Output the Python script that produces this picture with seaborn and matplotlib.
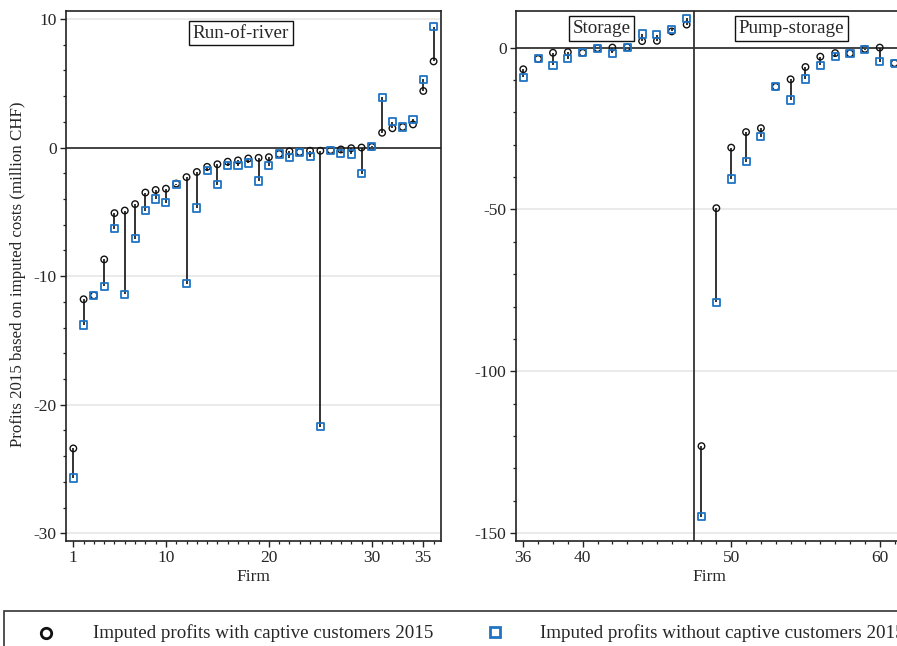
import matplotlib
matplotlib.use("Agg")
import matplotlib.pyplot as plt
import seaborn as sns
import pandas as pd
import numpy as np
from matplotlib.patches import Rectangle
from matplotlib.lines import Line2D

# ---------------- data ----------------
firms_left = list(range(1, 37))
with_captive_left = [-23.4, -11.8, -11.5, -8.7, -5.1, -4.9, -4.4, -3.5, -3.3, -3.2,
                     -2.8, -2.3, -1.9, -1.5, -1.3, -1.1, -1.0, -0.85, -0.8, -0.75,
                     -0.5, -0.3, -0.35, -0.25, -0.25, -0.2, -0.15, -0.05, 0.0, 0.05,
                     1.15, 1.5, 1.6, 1.8, 4.4, 6.7]
without_captive_left = [-25.7, -13.8, -11.5, -10.8, -6.3, -11.4, -7.1, -4.9, -4.0, -4.3,
                        -2.9, -10.6, -4.7, -1.8, -2.9, -1.4, -1.4, -1.2, -2.6, -1.4,
                        -0.5, -0.8, -0.35, -0.7, -21.7, -0.2, -0.45, -0.5, -2.05, 0.1,
                        3.9, 2.0, 1.6, 2.2, 5.3, 9.4]

firms_right = list(range(36, 62))
with_captive_right = [-6.7, -3.5, -1.6, -1.4, -1.6, -0.2, 0.0, 0.1, 2.0, 2.1, 5.0, 7.1,
                      -123.1, -49.6, -30.9, -26.1, -24.9, -12.1, -9.8, -6.0, -2.8, -1.7,
                      -1.8, -0.4, 0.0, -4.8]
without_captive_right = [-9.2, -3.5, -5.5, -3.4, -1.6, -0.2, -1.8, 0.1, 4.2, 3.9, 5.7, 9.0,
                         -144.9, -78.7, -40.6, -35.3, -27.5, -12.1, -16.2, -9.7, -5.5, -2.8,
                         -1.8, -0.6, -4.4, -4.8]

left_xticks = [1, 10, 20, 30, 35]
right_xticks = [36, 40, 50, 60]
left_yticks = [10, 0, -10, -20, -30]
right_yticks = [0, -50, -100, -150]
group_labels = ["Run-of-river", "Storage", "Pump-storage"]
legend_labels = ["Imputed profits with captive customers 2015",
                 "Imputed profits without captive customers 2015"]
ylabel = "Profits 2015 based on imputed costs (million CHF)"
xlabel = "Firm"

BLUE = "#1f74c4"
FONT = ["Liberation Serif", "DejaVu Serif"]
FS = 12.5
FS_BIG = 13.7

sns.set_style("white")
plt.rcParams["font.family"] = FONT

W, H = 897, 646
fig = plt.figure(figsize=(W / 100, H / 100), dpi=100)

def fx(px):
    return px / W

def fy(py):
    return 1 - py / H

top, bottom = 11, 541
axL = fig.add_axes([fx(66), fy(bottom), fx(441) - fx(66), fy(top) - fy(bottom)])
axR = fig.add_axes([fx(516), fy(bottom), fx(902) - fx(516), fy(top) - fy(bottom)])

dfL = pd.DataFrame({"firm": firms_left, "with": with_captive_left, "without": without_captive_left})
dfR = pd.DataFrame({"firm": firms_right, "with": with_captive_right, "without": without_captive_right})

def draw(ax, df, xlim, ylim, xticks, yticks, yminor):
    ax.set_xlim(*xlim)
    ax.set_ylim(*ylim)
    for yv in yticks:
        if yv != 0:
            ax.axhline(yv, color="#e6e6e6", lw=1.2, zorder=0)
    ax.axhline(0, color="#222222", lw=1.2, zorder=1)
    ax.vlines(df["firm"], df["with"], df["without"], color="#111111", lw=1.2, zorder=2)
    sns.scatterplot(data=df, x="firm", y="with", ax=ax, marker="o", s=22,
                    facecolor="none", edgecolor="#111111", linewidth=1.0, zorder=3)
    sns.scatterplot(data=df, x="firm", y="without", ax=ax, marker="s", s=26,
                    facecolor="none", edgecolor=BLUE, linewidth=1.3, zorder=4)
    ax.set_xticks(xticks)
    ax.set_xticklabels([str(t) for t in xticks])
    ax.set_xticks(np.arange(int(np.ceil(xlim[0])), int(xlim[1]) + 1), minor=True)
    ax.set_yticks(yticks)
    ax.set_yticklabels([str(t) for t in yticks])
    ax.set_yticks(np.arange(yticks[-1], yticks[0] + 0.001, yminor), minor=True)
    ax.tick_params(axis="both", which="major", direction="out", length=4.3, width=1.0,
                   color="#222222", labelsize=FS, pad=2.5, left=True, bottom=True)
    ax.tick_params(axis="both", which="minor", direction="out", length=2.4, width=0.9,
                   color="#222222", left=True, bottom=True)
    ax.set_xlabel(xlabel, fontsize=FS, labelpad=2)
    ax.set_ylabel("")
    for sp in ax.spines.values():
        sp.set_color("#222222")
        sp.set_linewidth(1.2)
    ax.grid(False)

draw(axL, dfL, (0.29, 36.72), (-30.6, 10.62), left_xticks, left_yticks, 2)
draw(axR, dfR, (35.51, 61.5), (-152.4, 11.3), right_xticks, right_yticks, 10)

axR.axvline(47.5, color="#333333", lw=1.3, zorder=1)

box = dict(boxstyle="square,pad=0.2", facecolor="white", edgecolor="#111111", lw=1.0)
axL.text(17.3, 8.9, group_labels[0], fontsize=FS_BIG, ha="center", va="center", bbox=box)
axR.text(41.26, 5.9, group_labels[1], fontsize=FS_BIG, ha="center", va="center", bbox=box)
axR.text(54.05, 5.9, group_labels[2], fontsize=FS_BIG, ha="center", va="center", bbox=box)

fig.text(fx(18), fy(274), ylabel, rotation=90, fontsize=12.2, ha="center", va="center")

# legend box (extends beyond the figure edge)
fig.patches.append(Rectangle((fx(4), fy(700)), fx(1000) - fx(4), fy(611) - fy(700),
                             transform=fig.transFigure, facecolor="none",
                             edgecolor="#333333", lw=1.2))
fig.lines.append(Line2D([fx(46)], [fy(633)], transform=fig.transFigure, marker="o",
                        markersize=7.5, markerfacecolor="none", markeredgecolor="#111111",
                        markeredgewidth=2.0, linestyle="none"))
fig.lines.append(Line2D([fx(495)], [fy(632)], transform=fig.transFigure, marker="s",
                        markersize=7.5, markerfacecolor="none", markeredgecolor=BLUE,
                        markeredgewidth=2.0, linestyle="none"))
fig.text(fx(93), fy(633), legend_labels[0], fontsize=FS_BIG, ha="left", va="center")
fig.text(fx(540), fy(633), legend_labels[1], fontsize=FS_BIG, ha="left", va="center")

fig.savefig("out.png", dpi=100)
